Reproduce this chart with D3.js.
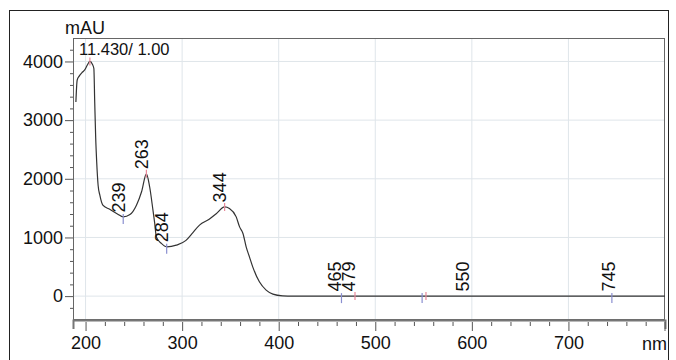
<!DOCTYPE html>
<html>
<head>
<meta charset="utf-8">
<script src="https://cdn.jsdelivr.net/npm/d3@7.9.0/dist/d3.min.js"></script>
<style>
  body { margin: 0; background: #fff; }
  svg text { font-family: "Liberation Sans", Arial, sans-serif; fill: #111; }
</style>
</head>
<body>
<svg id="chart" width="676" height="360"></svg>
<script>
// spectrum (nm, mAU)
const wavelengths = [190, 191.3, 193.4, 196.9, 199.3, 201.7, 204.4, 207.2, 208.6, 209.5, 210.5, 211.5,
  213, 214.8, 217.9, 225, 233, 239, 246, 252.7, 258, 263, 266.4, 269.8, 271.6, 273.3, 278.5, 284,
  294, 304, 310, 318, 328, 335, 344, 349, 356, 359.5, 363, 366.3, 369.7, 373.1, 380, 387, 394,
  404, 415, 500, 600, 700, 800];
const absorbance = [3310, 3680, 3750, 3820, 3860, 3935, 4000, 3950, 3880, 3300, 2700, 2300,
  1890, 1720, 1550, 1480, 1400, 1350, 1390, 1550, 1780, 2085, 1860, 1465, 1244, 1010, 898, 840,
  869, 950, 1060, 1210, 1310, 1400, 1521, 1494, 1351, 1180, 1068, 840, 670, 499, 244, 102, 34,
  5, 0, 0, 0, 0, 0];

// peak / valley markers
const markerWl = [204.5, 239, 263, 284, 344, 465, 479, 548.5, 552.5, 745];
const markerMau = [4000, 1350, 2085, 840, 1521, 0, 0, 0, 0, 0];
const markerType = ['max', 'min', 'max', 'min', 'max', 'min', 'max', 'min', 'max', 'min'];

// rotated labels
const labelText = ['239', '263', '284', '344', '465', '479', '550', '745'];
const labelWl = [240.5, 264.3, 285.4, 345.2, 464.5, 479.5, 597.5, 748.3];
const labelMau = [1350, 2085, 840, 1521, 0, 0, 0, 0];

const xMajor = [200, 300, 400, 500, 600, 700];
const yMajor = [0, 1000, 2000, 3000, 4000];

const svg = d3.select('#chart');
const mLeft = 73, mRight = 665, mTop = 38, mBottom = 319;

const x = d3.scaleLinear().domain([187, 800]).range([mLeft, mRight]);
const y = d3.scaleLinear().domain([-390, 4400]).range([mBottom, mTop]);

// outer frame
svg.append('rect')
  .attr('x', 9.5).attr('y', 10.5).attr('width', 659).attr('height', 360)
  .attr('fill', 'none').attr('stroke', '#222').attr('stroke-width', 1);

// grid
svg.append('g').selectAll('line').data(xMajor).join('line')
  .attr('x1', d => x(d)).attr('x2', d => x(d))
  .attr('y1', mTop).attr('y2', mBottom)
  .attr('stroke', '#dfe5ea').attr('stroke-width', 1);
svg.append('g').selectAll('line').data(yMajor).join('line')
  .attr('x1', mLeft).attr('x2', mRight)
  .attr('y1', d => y(d)).attr('y2', d => y(d))
  .attr('stroke', '#dfe5ea').attr('stroke-width', 1);

// plot box
svg.append('rect')
  .attr('x', mLeft + 0.5).attr('y', mTop + 0.5)
  .attr('width', mRight - mLeft - 1).attr('height', mBottom - mTop)
  .attr('fill', 'none').attr('stroke', '#666').attr('stroke-width', 1);

// x axis
const xAxis = d3.axisBottom(x).tickValues(xMajor).tickSize(9).tickPadding(7).tickFormat(d3.format('d'));
const gx = svg.append('g').attr('transform', `translate(0,${mBottom + 1})`).call(xAxis);
gx.select('.domain').attr('stroke', '#777').attr('stroke-width', 2);
gx.selectAll('.tick line').attr('stroke', '#555').attr('transform', 'translate(0,2)');
gx.selectAll('.tick text').attr('font-size', 18).attr('font-family', '"Liberation Sans", Arial, sans-serif').attr('fill', '#111');
svg.append('g').attr('transform', `translate(0,${mBottom + 3})`)
  .call(d3.axisBottom(x).tickValues(d3.range(200, 800, 20).filter(d => d % 100 !== 0)).tickSize(4).tickFormat(''))
  .call(g => g.select('.domain').remove())
  .selectAll('.tick line').attr('stroke', '#555');
svg.append('g').attr('transform', `translate(0,${mBottom + 3})`)
  .call(d3.axisBottom(x).tickValues([800]).tickSize(9).tickFormat(''))
  .call(g => g.select('.domain').remove())
  .selectAll('.tick line').attr('stroke', '#555').attr('transform', 'translate(-0.5,0)');

// y axis
const yAxis = d3.axisLeft(y).tickValues(yMajor).tickSize(8).tickPadding(2).tickFormat(d3.format('d'));
const gy = svg.append('g').attr('transform', `translate(${mLeft},0)`).call(yAxis);
gy.select('.domain').remove();
gy.selectAll('.tick line').attr('stroke', '#555');
gy.selectAll('.tick text').attr('font-size', 18).attr('font-family', '"Liberation Sans", Arial, sans-serif').attr('fill', '#111');
svg.append('g').attr('transform', `translate(${mLeft},0)`)
  .call(d3.axisLeft(y).tickValues(d3.range(-200, 4400, 200).filter(d => d % 1000 !== 0)).tickSize(3).tickFormat(''))
  .call(g => g.select('.domain').remove())
  .selectAll('.tick line').attr('stroke', '#555');

// units
svg.append('text').attr('x', 65).attr('y', 33.5).attr('font-size', 18).text('mAU');
svg.append('text').attr('x', mRight + 2).attr('y', 350).attr('font-size', 18)
  .attr('text-anchor', 'end').text('nm');
svg.append('text').attr('x', 79).attr('y', 55).attr('font-size', 16.5).text('11.430/ 1.00');

// spectrum
const line = d3.line()
  .x((d, i) => x(wavelengths[i]))
  .y(d => y(d))
  .curve(d3.curveMonotoneX);
svg.append('path')
  .datum(absorbance)
  .attr('d', line)
  .attr('fill', 'none')
  .attr('stroke', '#333')
  .attr('stroke-width', 1.2);

// markers
svg.append('g').selectAll('line').data(markerWl).join('line')
  .attr('x1', d => x(d)).attr('x2', d => x(d))
  .attr('y1', (d, i) => y(markerMau[i]) + (markerType[i] === 'max' ? -4 : -3))
  .attr('y2', (d, i) => y(markerMau[i]) + (markerType[i] === 'max' ? 4 : 7))
  .attr('stroke', (d, i) => markerType[i] === 'max' ? '#e8899a' : '#8a8fd0')
  .attr('stroke-width', 1.2);

// rotated peak labels
svg.append('g').selectAll('text').data(labelText).join('text')
  .attr('transform', (d, i) => `translate(${x(labelWl[i])},${y(labelMau[i]) - 4.5}) rotate(-90)`)
  .attr('font-size', 18)
  .text(d => d);
</script>
</body>
</html>
